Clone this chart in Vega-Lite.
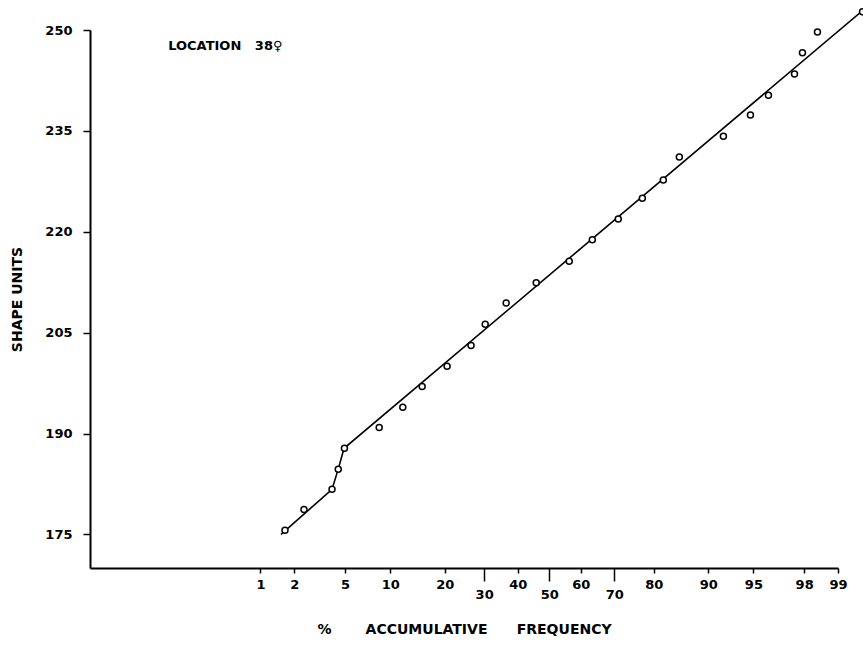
{
  "$schema": "https://vega.github.io/schema/vega-lite/v6.json",
  "width": 748,
  "height": 538,
  "autosize": {"type": "none"},
  "padding": {"left": 90, "top": 30, "right": 25, "bottom": 77},
  "background": "white",
  "config": {
    "view": {"stroke": null},
    "font": "DejaVu Sans",
    "axis": {
      "grid": false,
      "domainColor": "black",
      "tickColor": "black",
      "labelColor": "black",
      "titleColor": "black",
      "labelFont": "DejaVu Sans",
      "labelFontWeight": "bold",
      "labelFontSize": 13,
      "titleFont": "DejaVu Sans",
      "titleFontWeight": "bold",
      "titleFontSize": 14,
      "domainWidth": 2,
      "tickWidth": 1.5
    }
  },
  "datasets": {
    "points": [
      {"z": -2.129, "value": 175.6},
      {"z": -1.976, "value": 178.7},
      {"z": -1.75, "value": 181.7},
      {"z": -1.70, "value": 184.7},
      {"z": -1.65, "value": 187.8},
      {"z": -1.37, "value": 190.9},
      {"z": -1.18, "value": 193.9},
      {"z": -1.024, "value": 197.0},
      {"z": -0.823, "value": 200.0},
      {"z": -0.63, "value": 203.1},
      {"z": -0.516, "value": 206.25},
      {"z": -0.347, "value": 209.4},
      {"z": -0.105, "value": 212.4},
      {"z": 0.161, "value": 215.6},
      {"z": 0.347, "value": 218.8},
      {"z": 0.556, "value": 221.9},
      {"z": 0.75, "value": 225.0},
      {"z": 0.919, "value": 227.7},
      {"z": 1.048, "value": 231.1},
      {"z": 1.403, "value": 234.2},
      {"z": 1.621, "value": 237.35},
      {"z": 1.766, "value": 240.3},
      {"z": 1.976, "value": 243.45},
      {"z": 2.04, "value": 246.6},
      {"z": 2.161, "value": 249.7},
      {"z": 2.524, "value": 252.7}
    ],
    "fit": [
      {"step": 1, "z": -2.161, "value": 175.0},
      {"step": 2, "z": -1.75, "value": 181.7},
      {"step": 3, "z": -1.70, "value": 184.7},
      {"step": 4, "z": -1.653, "value": 187.8},
      {"step": 5, "z": 2.532, "value": 253.0}
    ],
    "note": [
      {"z": -3.07, "value": 247.6, "label": "LOCATION\u00a0\u00a0 38\u2640"}
    ]
  },
  "layer": [
    {
      "data": {"name": "fit"},
      "mark": {"type": "line", "color": "black", "strokeWidth": 1.6},
      "encoding": {
        "x": {
          "field": "z",
          "type": "quantitative",
          "scale": {"domain": [-3.7, 2.3264], "nice": false, "zero": false},
          "axis": {
            "orient": "bottom",
            "values": [-2.32635, -2.05375, -1.64485, -1.28155, -0.84162, -0.25335, 0.25335, 0.84162, 1.28155, 1.64485, 2.05375, 2.32635],
            "labelExpr": "round(cumulativeNormal(datum.value) * 100)",
            "tickSize": 5,
            "labelPadding": 5,
            "labelFlush": false,
            "labelOverlap": false,
            "title": "%\u00a0\u00a0\u00a0\u00a0\u00a0\u00a0\u00a0ACCUMULATIVE\u00a0\u00a0\u00a0\u00a0\u00a0\u00a0FREQUENCY",
            "titlePadding": 31
          }
        },
        "y": {
          "field": "value",
          "type": "quantitative",
          "scale": {"domain": [170, 250], "nice": false, "zero": false},
          "axis": {
            "values": [175, 190, 205, 220, 235, 250],
            "tickSize": 7,
            "labelPadding": 11,
            "title": "SHAPE UNITS",
            "titlePadding": 20
          }
        },
        "order": {"field": "step", "type": "quantitative"}
      }
    },
    {
      "data": {"name": "points"},
      "mark": {"type": "point", "shape": "circle", "filled": true, "fill": "white", "stroke": "black", "strokeWidth": 1.5, "size": 36, "opacity": 1},
      "encoding": {
        "x": {
          "field": "z",
          "type": "quantitative",
          "axis": {
            "orient": "bottom",
            "values": [-0.5244, 0, 0.5244],
            "labelExpr": "round(cumulativeNormal(datum.value) * 100)",
            "tickSize": 13,
            "labelPadding": 7,
            "labelFlush": false,
            "domain": false,
            "title": null
          }
        },
        "y": {
          "field": "value",
          "type": "quantitative",
          "axis": {
            "values": [175, 190, 205, 220, 235, 250],
            "tickSize": 7,
            "labelPadding": 11,
            "title": "SHAPE UNITS",
            "titlePadding": 20
          }
        }
      }
    },
    {
      "data": {"name": "note"},
      "mark": {"type": "text", "align": "left", "baseline": "middle", "font": "DejaVu Sans", "fontWeight": "bold", "fontSize": 13, "color": "black"},
      "encoding": {
        "x": {"field": "z", "type": "quantitative", "axis": null},
        "y": {
          "field": "value",
          "type": "quantitative",
          "axis": {
            "values": [175, 190, 205, 220, 235, 250],
            "tickSize": 7,
            "labelPadding": 11,
            "title": "SHAPE UNITS",
            "titlePadding": 20
          }
        },
        "text": {"field": "label"}
      }
    }
  ],
  "resolve": {"axis": {"x": "independent", "y": "shared"}}
}
